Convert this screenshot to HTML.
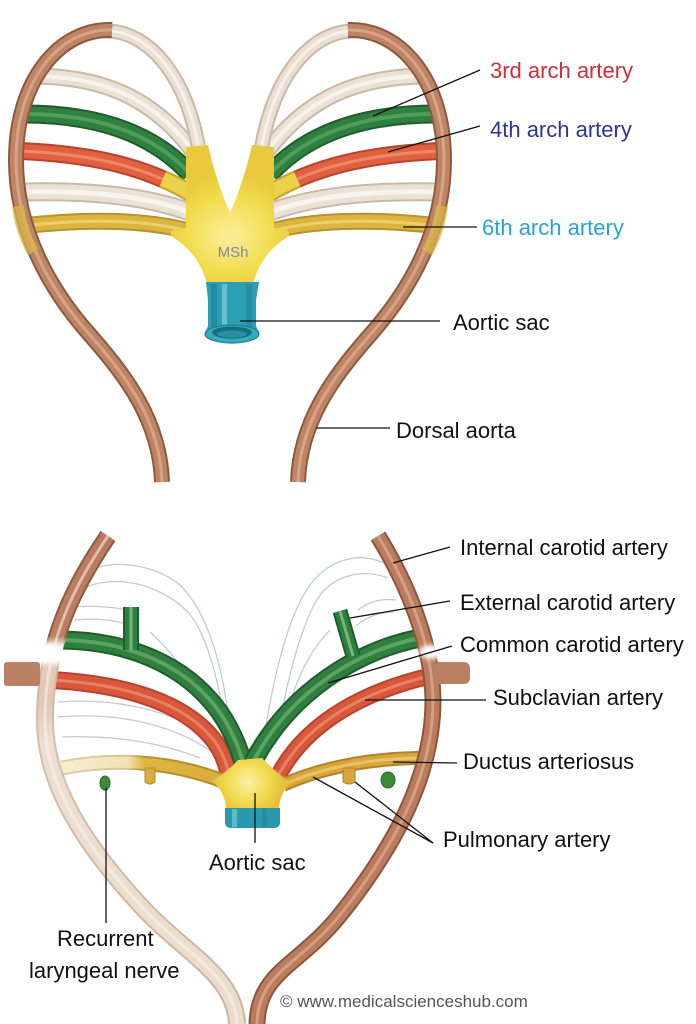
<!DOCTYPE html>
<html><head><meta charset="utf-8">
<style>
html,body{margin:0;padding:0;background:#fff;}
svg{display:block;}
text{font-family:"Liberation Sans",Arial,sans-serif;}
</style></head>
<body>
<svg width="696" height="1024" viewBox="0 0 696 1024" xmlns="http://www.w3.org/2000/svg">
<defs>
  <filter id="blur" x="-50%" y="-50%" width="200%" height="200%"><feGaussianBlur stdDeviation="2.5"/></filter>
  <radialGradient id="ycen" gradientUnits="userSpaceOnUse" cx="225" cy="235" r="60">
    <stop offset="0" stop-color="#faee9a"/><stop offset="0.6" stop-color="#f3dd50"/><stop offset="1" stop-color="#e9ca3c"/>
  </radialGradient>
  <radialGradient id="ybot" gradientUnits="userSpaceOnUse" cx="248" cy="782" r="36">
    <stop offset="0" stop-color="#fbf2a8"/><stop offset="0.55" stop-color="#f2dc52"/><stop offset="1" stop-color="#e3bf3a"/>
  </radialGradient>
  <linearGradient id="lbody" gradientUnits="userSpaceOnUse" x1="0" y1="530" x2="0" y2="1024">
    <stop offset="0" stop-color="#b87a5b"/><stop offset="0.215" stop-color="#bb7f61"/>
    <stop offset="0.233" stop-color="#f4ece6"/><stop offset="0.243" stop-color="#ffffff"/>
    <stop offset="0.263" stop-color="#ffffff"/><stop offset="0.279" stop-color="#e6cdbb"/>
    <stop offset="0.345" stop-color="#e0c6b3"/><stop offset="0.43" stop-color="#eddfd1"/>
    <stop offset="1" stop-color="#ecdccb"/>
  </linearGradient>
  <linearGradient id="ledge" gradientUnits="userSpaceOnUse" x1="0" y1="530" x2="0" y2="1024">
    <stop offset="0" stop-color="#8c5a3f"/><stop offset="0.215" stop-color="#8f5d42"/>
    <stop offset="0.233" stop-color="#f0e6de"/><stop offset="0.243" stop-color="#ffffff"/>
    <stop offset="0.263" stop-color="#ffffff"/><stop offset="0.279" stop-color="#d2b4a0"/>
    <stop offset="0.43" stop-color="#d6bfad"/><stop offset="1" stop-color="#cdb39f"/>
  </linearGradient>
  <linearGradient id="six" gradientUnits="userSpaceOnUse" x1="60" y1="0" x2="230" y2="0">
    <stop offset="0" stop-color="#f6efd2"/><stop offset="0.4" stop-color="#f1e2b0"/>
    <stop offset="0.5" stop-color="#dfb443"/><stop offset="1" stop-color="#d9ad3c"/>
  </linearGradient>
  <linearGradient id="sixe" gradientUnits="userSpaceOnUse" x1="60" y1="0" x2="230" y2="0">
    <stop offset="0" stop-color="#ddcfb0"/><stop offset="0.4" stop-color="#d8c590"/>
    <stop offset="0.5" stop-color="#b8902c"/><stop offset="1" stop-color="#b48a2a"/>
  </linearGradient>

  <!-- top diagram paths (left half) -->
  <path id="a2" d="M 40,76 C 100,78 150,95 192,150"/>
  <path id="a3" d="M 24,114 C 90,114 150,130 190,174"/>
  <path id="a4" d="M 20,151 C 90,154 145,166 192,194"/>
  <path id="a4y" d="M 162.8,179 C 172.9,183.4 182.6,188.4 192,194"/>
  <path id="a5" d="M 20,192 C 100,190 150,198 190,212"/>
  <path id="a6" d="M 22,226 C 90,218 150,220 192,232"/>
  <path id="pin" d="M 105,31 C 150,30 190,80 200,158"/>
  <path id="lob" d="M 112,30 C 60,28 16,80 16,160 C 16,230 50,290 90,335 C 125,375 160,420 162,482"/>

  <!-- bottom diagram paths -->
  <path id="bl" d="M 108,536 C 75,585 45,640 45,720 C 45,785 85,845 140,905 C 185,954 235,975 237,1024"/>
  <path id="br" d="M 378,536 C 405,580 432,640 433,700 C 433,770 400,840 340,915 C 300,965 258,972 257,1024"/>
  <path id="gl" d="M 58,640 C 120,640 175,660 210,700 C 228,720 238,745 244,765"/>
  <path id="gr" d="M 420,638 C 360,650 290,690 252,764"/>
  <path id="rl" d="M 50,680 C 130,684 185,705 212,738 C 222,750 226,762 230,778"/>
  <path id="rr" d="M 430,676 C 370,690 305,720 276,780"/>
  <path id="sl" d="M 62,768 C 110,758 170,760 225,782"/>
  <path id="sr" d="M 283,785 C 320,768 370,758 424,758"/>
  <path id="el" d="M 131,650 L 131,607"/>
  <path id="er" d="M 353,656 L 340,611"/>

  <g id="th" fill="none">
    <use href="#a2" stroke="#c9b9a8" stroke-width="17"/>
    <use href="#a2" stroke="#ebe2d6" stroke-width="13"/>
    <use href="#a2" stroke="#fbf8f3" stroke-width="4" opacity="0.8"/>
    <use href="#a3" stroke="#1f5e2c" stroke-width="19"/>
    <use href="#a3" stroke="#2f7f3f" stroke-width="15"/>
    <use href="#a3" stroke="#5fa865" stroke-width="4" opacity="0.7"/>
    <use href="#a4" stroke="#b8442c" stroke-width="18"/>
    <use href="#a4" stroke="#e0603f" stroke-width="14"/>
    <use href="#a4" stroke="#f29a7c" stroke-width="3" opacity="0.7"/>
    <use href="#a4y" stroke="#c9a631" stroke-width="18"/>
    <use href="#a4y" stroke="#ecd14a" stroke-width="14"/>
    <use href="#a5" stroke="#c9b9a8" stroke-width="19"/>
    <use href="#a5" stroke="#ebe2d6" stroke-width="15"/>
    <use href="#a5" stroke="#fbf8f3" stroke-width="5" opacity="0.8"/>
    <use href="#a6" stroke="#b8922c" stroke-width="17"/>
    <use href="#a6" stroke="#dcb540" stroke-width="13"/>
    <use href="#a6" stroke="#f3dc7a" stroke-width="3" opacity="0.7"/>
    <use href="#pin" stroke="#cbb8a6" stroke-width="15"/>
    <use href="#pin" stroke="#eadfd2" stroke-width="11"/>
    <use href="#pin" stroke="#faf5ee" stroke-width="3" opacity="0.8"/>
    <use href="#lob" stroke="#8c5a3f" stroke-width="16"/>
    <use href="#lob" stroke="#bf8464" stroke-width="12"/>
    <use href="#lob" stroke="#e0b397" stroke-width="3" opacity="0.7"/>
    <path d="M 18,206 C 20,222 25,238 33,252" stroke="#d8b548" stroke-width="12" opacity="0.75"/>
    <path d="M 186,147 L 208,145 C 213,168 222,195 230,213 L 230,284 L 207,284 C 203,268 193,250 174,238 C 168,234 170,229 178,229 L 186,228 Z" fill="url(#ycen)" stroke="none"/>
  </g>
</defs>

<!-- ================= TOP DIAGRAM ================= -->
<use href="#th"/>
<use href="#th" transform="translate(460,0) scale(-1,1)"/>

<path d="M 206,282 L 259,282 L 256,300 L 256,326 L 259,333 A 27 9 0 0 1 205,333 L 208,326 L 208,300 Z" fill="#2a9fb4"/>
<rect x="211" y="284" width="6" height="44" fill="#1b8296" opacity="0.6"/>
<rect x="222" y="284" width="5" height="44" fill="#7fd0de" opacity="0.7"/>
<rect x="246" y="284" width="6" height="44" fill="#1b8296" opacity="0.5"/>
<ellipse cx="232" cy="334" rx="27" ry="9" fill="#35a9bd" stroke="#1d7f92" stroke-width="1.2"/>
<ellipse cx="232" cy="332.5" rx="20" ry="6" fill="#14707f"/>
<ellipse cx="232" cy="334" rx="15" ry="3.5" fill="#2a8fa2"/>

<text x="233" y="257" font-size="15" fill="#7d8ba2" text-anchor="middle">MSh</text>

<g stroke="#111" stroke-width="1.3" fill="none">
  <line x1="480" y1="70" x2="373" y2="116"/>
  <line x1="480" y1="126" x2="388" y2="152"/>
  <line x1="477" y1="227" x2="403" y2="227"/>
  <line x1="240" y1="321" x2="440" y2="321"/>
  <line x1="316" y1="428" x2="390" y2="428"/>
</g>
<g font-size="22">
  <text x="490" y="78" fill="#d12d3b">3rd arch artery</text>
  <text x="490" y="137" fill="#2e3592">4th arch artery</text>
  <text x="482" y="235" fill="#27a2d9">6th arch artery</text>
  <text x="453" y="330" fill="#111">Aortic sac</text>
  <text x="396" y="438" fill="#111">Dorsal aorta</text>
</g>

<!-- ================= BOTTOM DIAGRAM ================= -->
<g fill="none" stroke="#c4cad4" stroke-width="1.3">
  <path d="M 88,573 C 100,560 150,560 180,585 C 205,610 225,660 232,752"/>
  <path d="M 82,590 C 100,577 150,575 188,612 C 208,635 222,690 228,752"/>
  <path d="M 72,607 C 100,605 125,608 140,614"/>
  <path d="M 74,620 C 95,618 115,620 125,624"/>
  <path d="M 150,632 C 170,650 195,680 215,720"/>
  <path d="M 57,717 C 110,712 170,722 212,752"/>
  <path d="M 62,737 C 110,735 160,742 200,758"/>
  <path d="M 58,702 C 110,698 160,708 200,730"/>
  <path d="M 384,563 C 360,552 330,558 310,585 C 288,615 272,680 262,752"/>
  <path d="M 388,578 C 362,568 330,575 315,603 C 298,635 285,690 276,745"/>
  <path d="M 396,600 C 380,598 368,602 358,610"/>
  <path d="M 393,612 C 378,612 365,618 356,626"/>
  <path d="M 330,630 C 310,650 296,680 290,705"/>
</g>

<g fill="none">
  <use href="#rl" stroke="#b8442c" stroke-width="18"/>
  <use href="#rl" stroke="#d9573a" stroke-width="14"/>
  <use href="#rl" stroke="#f09476" stroke-width="3" opacity="0.7"/>
  <use href="#gl" stroke="#1f5e2c" stroke-width="19"/>
  <use href="#gl" stroke="#2f7f3f" stroke-width="15"/>
  <use href="#gl" stroke="#6fb070" stroke-width="4" opacity="0.7"/>
  <use href="#el" stroke="#1f5e2c" stroke-width="16"/>
  <use href="#el" stroke="#2f7f3f" stroke-width="12"/>
  <use href="#el" stroke="#8cc48c" stroke-width="3" opacity="0.8"/>

  <use href="#rr" stroke="#b8442c" stroke-width="17"/>
  <use href="#rr" stroke="#d9573a" stroke-width="13"/>
  <use href="#rr" stroke="#f09476" stroke-width="3" opacity="0.7"/>
  <use href="#gr" stroke="#1f5e2c" stroke-width="19"/>
  <use href="#gr" stroke="#2f7f3f" stroke-width="15"/>
  <use href="#gr" stroke="#6fb070" stroke-width="4" opacity="0.7"/>
  <use href="#er" stroke="#1f5e2c" stroke-width="15"/>
  <use href="#er" stroke="#2f7f3f" stroke-width="11"/>
  <use href="#er" stroke="#8cc48c" stroke-width="3" opacity="0.8"/>

  <use href="#sl" stroke="url(#sixe)" stroke-width="15"/>
  <use href="#sl" stroke="url(#six)" stroke-width="11"/>
  <use href="#sr" stroke="#b2832a" stroke-width="14"/>
  <use href="#sr" stroke="#d8a63c" stroke-width="10"/>
  <use href="#sr" stroke="#f0d080" stroke-width="3" opacity="0.7"/>
</g>
<path d="M 145,768 L 145,782 Q 150,786 155,782 L 155,768 Z" fill="#d9ad3c" stroke="#b48a2a" stroke-width="1"/>
<path d="M 343,768 L 343,782 Q 349,786 355,782 L 355,768 Z" fill="#d8a63c" stroke="#b2832a" stroke-width="1"/>
<ellipse cx="105" cy="783" rx="5" ry="7" fill="#3a8a3a" stroke="#276a2a" stroke-width="1"/>
<ellipse cx="388" cy="780" rx="7" ry="8" fill="#3a8a3a" stroke="#276a2a" stroke-width="1"/>

<g fill="none">
  <use href="#bl" stroke="url(#ledge)" stroke-width="18"/>
  <use href="#bl" stroke="url(#lbody)" stroke-width="14"/>
  <use href="#bl" stroke="#fbf4ee" stroke-width="3" opacity="0.55"/>
  <use href="#br" stroke="#8d563c" stroke-width="17"/>
  <use href="#br" stroke="#bb7c5d" stroke-width="13"/>
  <use href="#br" stroke="#dfae92" stroke-width="3" opacity="0.7"/>
</g>
<rect x="4" y="662" width="36" height="24" rx="3" fill="#b98062"/>
<rect x="434" y="662" width="36" height="22" rx="6" fill="#b98062"/>
<ellipse cx="47" cy="652" rx="13" ry="7" fill="#fff" filter="url(#blur)"/>
<ellipse cx="431" cy="652" rx="12" ry="7" fill="#fff" filter="url(#blur)"/>

<path d="M 238,760 L 262,758 C 270,766 280,776 291,782 C 283,790 279,800 279,810 L 226,810 C 226,800 222,789 212,781 C 222,775 232,767 238,760 Z" fill="url(#ybot)"/>
<path d="M 225,808 L 280,808 L 280,822 Q 280,828 274,828 L 231,828 Q 225,828 225,822 Z" fill="#2a98ad"/>
<rect x="232" y="809" width="5" height="18" fill="#7fd0de" opacity="0.6"/>
<rect x="262" y="809" width="5" height="18" fill="#1b8296" opacity="0.5"/>

<g stroke="#111" stroke-width="1.3" fill="none">
  <line x1="450" y1="547" x2="393" y2="563"/>
  <line x1="450" y1="601" x2="350" y2="618"/>
  <line x1="452" y1="646" x2="328" y2="683"/>
  <line x1="486" y1="700" x2="365" y2="700"/>
  <line x1="457" y1="763" x2="393" y2="762"/>
  <line x1="433" y1="843" x2="313" y2="777"/>
  <line x1="433" y1="843" x2="355" y2="782"/>
  <line x1="255" y1="793" x2="255" y2="843"/>
  <line x1="106" y1="788" x2="106" y2="923"/>
</g>
<g font-size="22" fill="#111">
  <text x="460" y="555">Internal carotid artery</text>
  <text x="460" y="610">External carotid artery</text>
  <text x="460" y="652">Common carotid artery</text>
  <text x="493" y="705">Subclavian artery</text>
  <text x="463" y="769">Ductus arteriosus</text>
  <text x="443" y="847">Pulmonary artery</text>
  <text x="209" y="870">Aortic sac</text>
  <text x="57" y="946">Recurrent</text>
  <text x="29" y="978">laryngeal nerve</text>
</g>
<text x="280" y="1007" font-size="17" fill="#555">© www.medicalscienceshub.com</text>
</svg>
</body></html>
